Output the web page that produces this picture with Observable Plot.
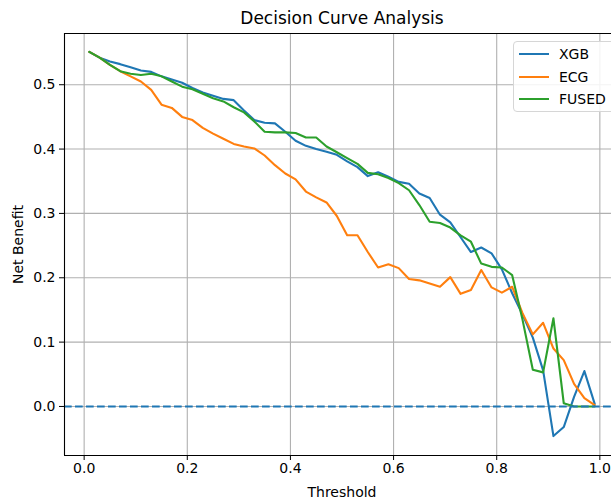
<!DOCTYPE html>
<html><head><meta charset="utf-8">
<script src="https://cdn.jsdelivr.net/npm/d3@7"></script>
<script src="https://cdn.jsdelivr.net/npm/@observablehq/plot@0.6"></script>
<style>
html,body{margin:0;padding:0;background:#fff;overflow:hidden;}
#wrap{position:relative;width:611px;height:501px;font-family:"DejaVu Sans",sans-serif;overflow:hidden;}
#legend{position:absolute;left:513px;top:41px;width:110px;height:71px;border:1px solid #d6d6d6;border-radius:4px;background:rgba(255,255,255,0.85);box-sizing:border-box;}
.item{position:absolute;left:0;height:20px;width:110px;}
.swatch{position:absolute;left:5px;top:9px;width:30px;height:2px;}
.lab{position:absolute;left:45px;top:0;font-size:14px;line-height:20px;color:#000;white-space:nowrap;}
</style>
</head><body>
<div id="wrap"><div id="chart"></div><div id="legend"></div></div>
<script>
const thresholds = [0.01,0.03,0.05,0.07,0.09,0.11,0.13,0.15,0.17,0.19,0.21,0.23,0.25,0.27,0.29,0.31,0.33,0.35,0.37,0.39,0.41,0.43,0.45,0.47,0.49,0.51,0.53,0.55,0.57,0.59,0.61,0.63,0.65,0.67,0.69,0.71,0.73,0.75,0.77,0.79,0.81,0.83,0.85,0.87,0.89,0.91,0.93,0.95,0.97,0.99];
const xgb = [0.551,0.542,0.536,0.532,0.527,0.522,0.520,0.513,0.508,0.503,0.495,0.488,0.483,0.478,0.476,0.460,0.445,0.441,0.440,0.427,0.413,0.405,0.400,0.396,0.391,0.381,0.372,0.358,0.364,0.357,0.349,0.346,0.331,0.324,0.298,0.286,0.263,0.240,0.247,0.238,0.213,0.176,0.143,0.107,0.056,-0.046,-0.032,0.015,0.055,0.004];
const ecg = [0.551,0.542,0.531,0.521,0.513,0.505,0.492,0.469,0.464,0.450,0.445,0.433,0.424,0.416,0.408,0.404,0.401,0.390,0.375,0.362,0.353,0.334,0.325,0.317,0.296,0.266,0.266,0.240,0.216,0.221,0.215,0.198,0.196,0.191,0.186,0.201,0.175,0.181,0.212,0.185,0.177,0.186,0.145,0.112,0.130,0.090,0.072,0.035,0.013,0.002];
const fused = [0.551,0.542,0.531,0.521,0.517,0.515,0.517,0.513,0.505,0.497,0.493,0.486,0.479,0.474,0.465,0.457,0.443,0.427,0.426,0.426,0.425,0.418,0.418,0.404,0.395,0.386,0.377,0.363,0.361,0.355,0.347,0.336,0.313,0.287,0.285,0.278,0.266,0.256,0.222,0.217,0.216,0.204,0.135,0.057,0.053,0.137,0.005,0.000,0.000,0.000];
const seriesNames = ["XGB","ECG","FUSED"];
const seriesColors = ["#1f77b4","#ff7f0e","#2ca02c"];
const xTicks = [0.0,0.2,0.4,0.6,0.8,1.0];
const yTicks = [0.0,0.1,0.2,0.3,0.4,0.5];
const titleText = "Decision Curve Analysis";
const xLabel = "Threshold";
const yLabel = "Net Benefit";

const seriesValues = [xgb, ecg, fused];
const data = [];
seriesNames.forEach((s, i) => thresholds.forEach((t, j) => data.push({t, v: seriesValues[i][j], s})));

const xDom = [-0.0381, 1.0381];
const yDom = [-0.0762, 0.5796];
const fmt = d3.format(".1f");

const chart = Plot.plot({
  width: 611, height: 501,
  marginLeft: 64, marginRight: 0, marginTop: 33, marginBottom: 46,
  style: {fontFamily: "DejaVu Sans", fontSize: "14px", color: "#000", background: "#fff"},
  x: {domain: xDom, range: [64, 619]},
  y: {domain: yDom},
  color: {domain: seriesNames, range: seriesColors},
  marks: [
    Plot.gridX(xTicks, {stroke: "#b0b0b0", strokeOpacity: 1, strokeWidth: 1.1}),
    Plot.gridY(yTicks, {stroke: "#b0b0b0", strokeOpacity: 1, strokeWidth: 1.1}),
    Plot.line(data, {x: "t", y: "v", z: "s", stroke: "s", strokeWidth: 2.1, strokeLinejoin: "round"}),
    Plot.ruleY([0], {stroke: "#1f77b4", strokeWidth: 2, strokeDasharray: "7.7,3.3"}),
    Plot.ruleX([xDom[0]], {stroke: "#000", strokeWidth: 1.1}),
    Plot.ruleY(yDom, {stroke: "#000", strokeWidth: 1.1}),
    Plot.axisX(xTicks, {tickSize: 5, tickPadding: 3, tickFormat: fmt, label: null, stroke: "#000", fontSize: 14}),
    Plot.axisY(yTicks, {tickSize: 5, tickPadding: 4, tickFormat: fmt, label: null, stroke: "#000", fontSize: 14}),
    Plot.text([titleText], {x: () => 0.5, y: () => yDom[1], dy: -15, text: d => d, fontSize: 17, textAnchor: "middle", lineAnchor: "middle"}),
    Plot.text([xLabel], {x: () => 0.5, y: () => yDom[0], dy: 37, text: d => d, fontSize: 14, textAnchor: "middle", lineAnchor: "middle"}),
    Plot.text([yLabel], {x: () => xDom[0], y: () => (yDom[0] + yDom[1]) / 2, dx: -46, text: d => d, fontSize: 14, rotate: -90, textAnchor: "middle", lineAnchor: "middle"})
  ]
});
document.getElementById("chart").appendChild(chart);

const legend = document.getElementById("legend");
const rowTops = [2, 24.5, 47];
seriesNames.forEach((name, i) => {
  const item = document.createElement("div");
  item.className = "item";
  item.style.top = rowTops[i] + "px";
  const sw = document.createElement("div");
  sw.className = "swatch";
  sw.style.background = seriesColors[i];
  const lab = document.createElement("div");
  lab.className = "lab";
  lab.textContent = name;
  item.appendChild(sw); item.appendChild(lab);
  legend.appendChild(item);
});
</script>
</body></html>
